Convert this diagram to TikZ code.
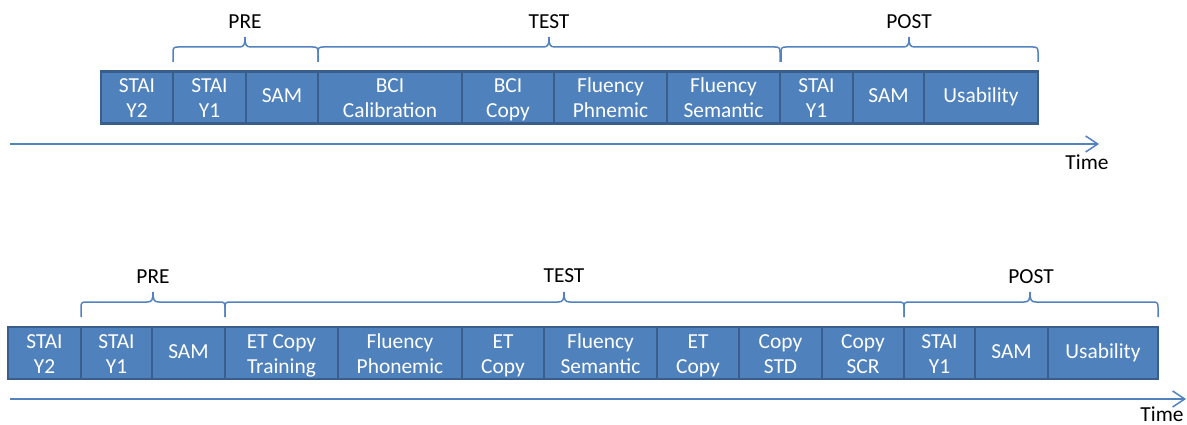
\documentclass[tikz,border=0pt]{standalone}
\usepackage{fontspec}
\setmainfont{Carlito}
\usetikzlibrary{arrows.meta}
\definecolor{cellfill}{HTML}{4F81BD}
\definecolor{cellline}{HTML}{395E8C}
\definecolor{braceline}{HTML}{5283BE}
\tikzset{
  cellbox/.style={draw=cellline, fill=cellfill, line width=2.6pt, text=white,
    align=center, inner sep=0pt, font=\fontsize{21.4}{25}\selectfont},
  phase/.style={text=black, inner sep=0pt, font=\fontsize{21.4}{25}\selectfont},
  bracepath/.style={draw=braceline, line width=1.5pt},
  timeline/.style={draw=braceline, line width=1.5pt, -{Straight Barb[length=12pt,width=16pt,line width=1.5pt]}}
}
% invisible struts keeping every line on the same baseline grid
\newcommand\lineA{\rule[-5pt]{0pt}{25pt}}
\newcommand\lineB{\rule[-7.5pt]{0pt}{25pt}}
% two-line cell: name, left x, right x, centre y, first line, second line
\newcommand\cell[6]{%
  \node[cellbox, minimum width={#3pt-#2pt}, minimum height=52pt]
    (#1) at ({(#2+#3)/2},#4) {\lineA#5\\\lineA#6};}
% one-line cell: name, left x, right x, centre y, text
\newcommand\cellone[5]{%
  \node[cellbox, minimum width={#3pt-#2pt}, minimum height=52pt]
    (#1) at ({(#2+#3)/2},#4) {\lineB#5};}
% curly brace: left x, right x, tip x, base y (line level)
\newcommand\phasebrace[4]{%
  \draw[bracepath] (#1,#4+15) -- (#1,#4+5)
    .. controls (#1,#4+1) and (#1+1,#4) .. (#1+5,#4)
    -- (#3-6,#4)
    .. controls (#3-1,#4) and (#3,#4-2) .. (#3,#4-10)
    .. controls (#3,#4-2) and (#3+1,#4) .. (#3+6,#4)
    -- (#2-5,#4)
    .. controls (#2-1,#4) and (#2,#4+1) .. (#2,#4+5) -- (#2,#4+15);}
\begin{document}
\begin{tikzpicture}[x=1pt,y=-1pt]
\useasboundingbox (0,0) rectangle (1187,425);

% first protocol
\cell{a1}{101}{173}{97.5}{STAI}{Y2}
\cell{a2}{173}{246}{97.5}{STAI}{Y1}
\cellone{a3}{246}{318}{97.5}{SAM}
\cell{a4}{318}{462}{97.5}{BCI}{Calibration}
\cell{a5}{462}{554}{97.5}{BCI}{Copy}
\cell{a6}{554}{667}{97.5}{Fluency}{Phnemic}
\cell{a7}{667}{780}{97.5}{Fluency}{Semantic}
\cell{a8}{780}{853}{97.5}{STAI}{Y1}
\cellone{a9}{853}{924}{97.5}{SAM}
\cellone{a10}{924}{1038}{97.5}{Usability}

\phasebrace{173}{318}{245}{47}
\phasebrace{318}{780}{549}{47}
\phasebrace{781}{1038}{909}{47}
\node[phase] (pa) at (245,22) {PRE};
\node[phase] (ta) at (549,22) {TEST};
\node[phase] (qa) at (909,22) {POST};

\coordinate (s1) at (10,144);
\coordinate (e1) at (1099,144);
\draw[timeline] (s1) -- (e1);
\node[phase] (time1) at (1087,162) {Time};

% second protocol
\cell{b1}{8}{81}{353}{STAI}{Y2}
\cell{b2}{81}{152}{353}{STAI}{Y1}
\cellone{b3}{152}{225}{353}{SAM}
\cell{b4}{225}{338}{353}{ET Copy}{Training}
\cell{b5}{338}{462}{353}{Fluency}{Phonemic}
\cell{b6}{462}{544}{353}{ET}{Copy}
\cell{b7}{544}{657}{353}{Fluency}{Semantic}
\cell{b8}{657}{739}{353}{ET}{Copy}
\cell{b9}{739}{822}{353}{Copy}{STD}
\cell{b10}{822}{904}{353}{Copy}{SCR}
\cell{b11}{904}{975}{353}{STAI}{Y1}
\cellone{b12}{975}{1048}{353}{SAM}
\cellone{b13}{1048}{1158}{353}{Usability}

\phasebrace{81}{225}{153}{302}
\phasebrace{225}{904}{564}{302}
\phasebrace{904}{1158}{1030}{302}
\node[phase] (pb) at (153,277) {PRE};
\node[phase] (tb) at (564,276) {TEST};
\node[phase] (qb) at (1031,277) {POST};

\coordinate (s2) at (10,399);
\coordinate (e2) at (1186,399);
\draw[timeline] (s2) -- (e2);
\node[phase] (time2) at (1162,414) {Time};
\end{tikzpicture}
\end{document}
